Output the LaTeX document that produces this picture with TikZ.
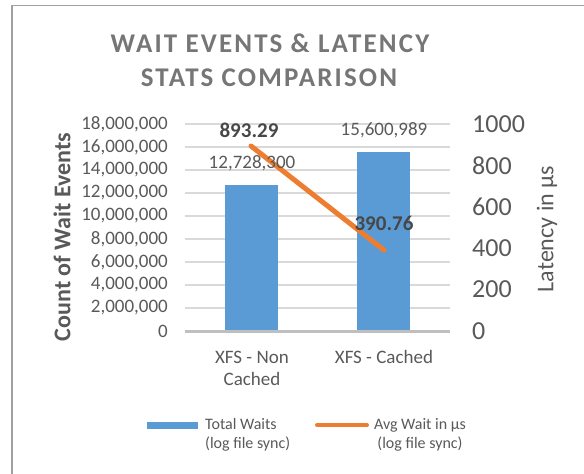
\documentclass[tikz,border=0pt]{standalone}
\usepackage{fontspec}
\setmainfont{Carlito}
\definecolor{barblue}{HTML}{5B9BD5}
\definecolor{lineorange}{HTML}{ED7D31}
\definecolor{txtgray}{HTML}{595959}
\definecolor{titlegray}{HTML}{767676}
\definecolor{gridgray}{HTML}{D9D9D9}
\definecolor{axisgray}{HTML}{BFBFBF}
\definecolor{framegray}{HTML}{A0A0A0}
\begin{document}
\begin{tikzpicture}[x=1pt,y=-1pt]
\tikzstyle{every node}+=[inner sep=0pt, text=txtgray]
\tikzstyle{ticklbl}=[font=\fontsize{19}{22}\selectfont]
\tikzstyle{rticklbl}=[font=\fontsize{26}{30}\selectfont]
\tikzstyle{datalbl}=[font=\fontsize{21}{25}\selectfont\bfseries, text=txtgray!80!black]
\tikzstyle{titlelbl}=[font=\fontsize{27}{32}\selectfont\bfseries\addfontfeature{LetterSpace=8}, text=titlegray]
\useasboundingbox (0,0) rectangle (584,474);
% frame
\draw [framegray, line width=1.5pt] (12,474) -- (12,5.5) -- (584,5.5);
% title
\node [titlelbl] (title1) at (270,43) {WAIT EVENTS \& LATENCY};
\node [titlelbl] (title2) at (269,78) {STATS COMPARISON};
% grid and left axis
\foreach \k in {1,...,9}
  \draw [gridgray, line width=1.2pt] (185,331-23*\k) -- (450,331-23*\k);
\foreach \k/\lbl in {0/0,1/{2,000,000},2/{4,000,000},3/{6,000,000},4/{8,000,000},5/{10,000,000},6/{12,000,000},7/{14,000,000},8/{16,000,000},9/{18,000,000}}
  \node [ticklbl, anchor=east] (ltick\k) at (168,331-23*\k) {\lbl};
% right axis
\foreach \v in {0,200,400,600,800,1000}
  \node [rticklbl, anchor=west] (rtick\v) at (472,331-0.207*\v) {\v};
% bars
\fill [barblue] (225,184.6) rectangle (278,331);
\fill [barblue] (357,151.6) rectangle (410,331);
\draw [axisgray, line width=2.5pt] (185,331.5) -- (450,331.5);
% line series
\coordinate (p1) at (251,146);
\coordinate (p2) at (384,250.1);
\draw [lineorange, line width=5pt, line cap=round] (p1) -- (p2);
% data labels
\node [ticklbl] (bar1val) at (252,163) {12,728,300};
\node [ticklbl] (bar2val) at (384,130) {15,600,989};
\node [datalbl] (line1val) at (249,130) {893.29};
\node [datalbl] (line2val) at (384,223) {390.76};
% axis titles
\node [rotate=90, font=\fontsize{24}{28}\selectfont\bfseries] (ytitle) at (62,237) {Count of Wait Events};
\node [rotate=90, font=\fontsize{24}{28}\selectfont] (y2title) at (547,229) {Latency in µs};
% categories
\node [align=center, font=\fontsize{19}{22}\selectfont] (cat1) at (252,368) {XFS - Non\\Cached};
\node [ticklbl] (cat2) at (384,357) {XFS - Cached};
% legend
\fill [barblue] (147,421.5) rectangle (198,428.5);
\node [anchor=west, align=left, font=\fontsize{16}{19}\selectfont] (leg1) at (205,434.5) {Total Waits\\(log file sync)};
\draw [lineorange, line width=4pt, line cap=round] (317,425) -- (367,425);
\node [align=center, font=\fontsize{16}{19}\selectfont] (leg2) at (420,434.5) {Avg Wait in µs\\(log file sync)};
\end{tikzpicture}
\end{document}
